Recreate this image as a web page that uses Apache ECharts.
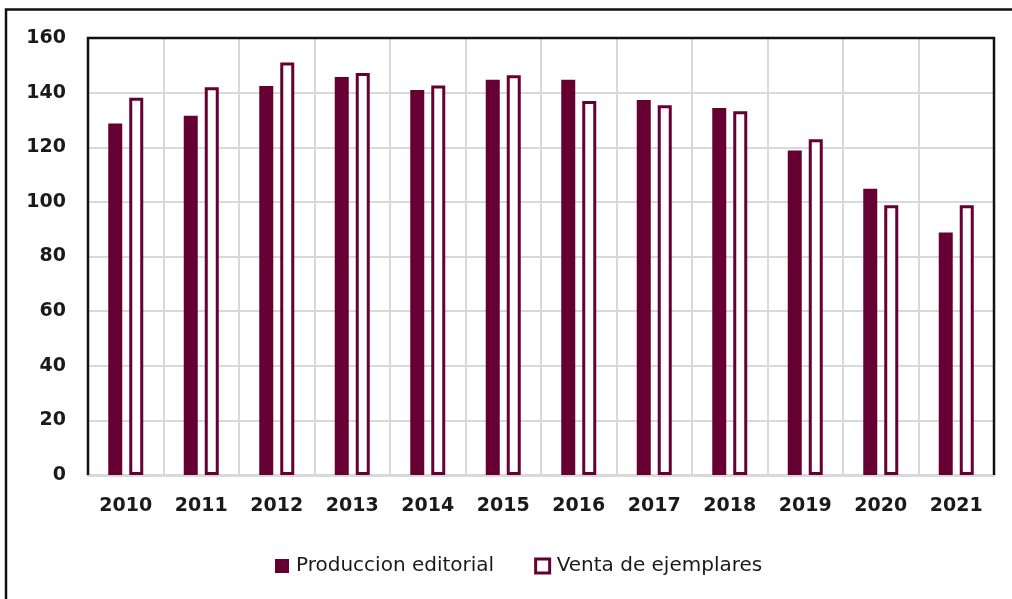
<!DOCTYPE html>
<html>
<head>
<meta charset="utf-8">
<script src="https://cdn.jsdelivr.net/npm/echarts@6/dist/echarts.min.js"></script>
<style>
html,body{margin:0;padding:0;background:#fff;}
#chart{width:1012px;height:599px;}
</style>
</head>
<body>
<div id="chart"></div>
<script>
const years = ['2010','2011','2012','2013','2014','2015','2016','2017','2018','2019','2020','2021'];
const produccionEditorial = [128.7, 131.5, 142.4, 145.7, 141.0, 144.7, 144.7, 137.3, 134.4, 118.8, 104.8, 88.8];
const ventaEjemplares = [138.1, 142.0, 151.0, 147.2, 142.6, 146.4, 136.9, 135.4, 133.2, 122.9, 98.8, 98.8];
const yTicks = { min: 0, max: 160, interval: 20 };

const maroon = '#660033';
const gridL = 88, gridT = 38, gridR = 18, gridB = 124;
const W = 1012, H = 599;
const chart = echarts.init(document.getElementById('chart'));
chart.setOption({
  backgroundColor: '#fff',
  animation: false,
  graphic: [
    {
      type: 'rect',
      shape: { x: 6, y: 9.5, width: 1030, height: 620 },
      style: { fill: 'none', stroke: '#111', lineWidth: 2.5 },
      z: 100
    },
    {
      type: 'polyline',
      shape: { points: [[gridL, H - gridB], [gridL, gridT], [W - gridR, gridT], [W - gridR, H - gridB]] },
      style: { fill: 'none', stroke: '#111', lineWidth: 2.5 },
      z: 100
    }
  ],
  grid: {
    left: gridL, top: gridT, right: gridR, bottom: gridB,
    show: false
  },
  legend: {
    top: 551,
    left: 270,
    itemWidth: 14, itemHeight: 14, itemGap: 40,
    textStyle: { fontFamily: 'DejaVu Sans', fontSize: 20, color: '#1a1a1a', padding: [0, 0, 0, 2] },
    data: [
      { name: 'Produccion editorial', icon: 'rect', itemStyle: { color: maroon, borderWidth: 0 } },
      { name: 'Venta de ejemplares', icon: 'rect', itemStyle: { color: '#fff', borderColor: maroon, borderWidth: 3 } }
    ]
  },
  xAxis: {
    type: 'category',
    data: years,
    axisTick: { show: false },
    axisLine: { show: true, lineStyle: { color: '#d9d9d9', width: 3 } },
    splitLine: { show: true, interval: 0, lineStyle: { color: '#d9d9d9', width: 2 } },
    axisLabel: { fontFamily: 'DejaVu Sans', fontWeight: 'bold', fontSize: 19, color: '#1a1a1a', margin: 22, interval: 0 }
  },
  yAxis: {
    type: 'value',
    min: yTicks.min, max: yTicks.max, interval: yTicks.interval,
    axisLine: { show: false },
    axisTick: { show: false },
    splitLine: { show: true, lineStyle: { color: '#d9d9d9', width: 2 } },
    axisLabel: { fontFamily: 'DejaVu Sans', fontWeight: 'bold', fontSize: 19, color: '#1a1a1a', margin: 22 }
  },
  series: [
    {
      name: 'Produccion editorial', type: 'bar', data: produccionEditorial,
      barWidth: 14, barGap: '50%',
      itemStyle: { color: maroon }
    },
    {
      name: 'Venta de ejemplares', type: 'bar', data: ventaEjemplares,
      barWidth: 14, barGap: '50%',
      itemStyle: { color: '#fff', borderColor: maroon, borderWidth: 3 }
    }
  ]
});
</script>
</body>
</html>
